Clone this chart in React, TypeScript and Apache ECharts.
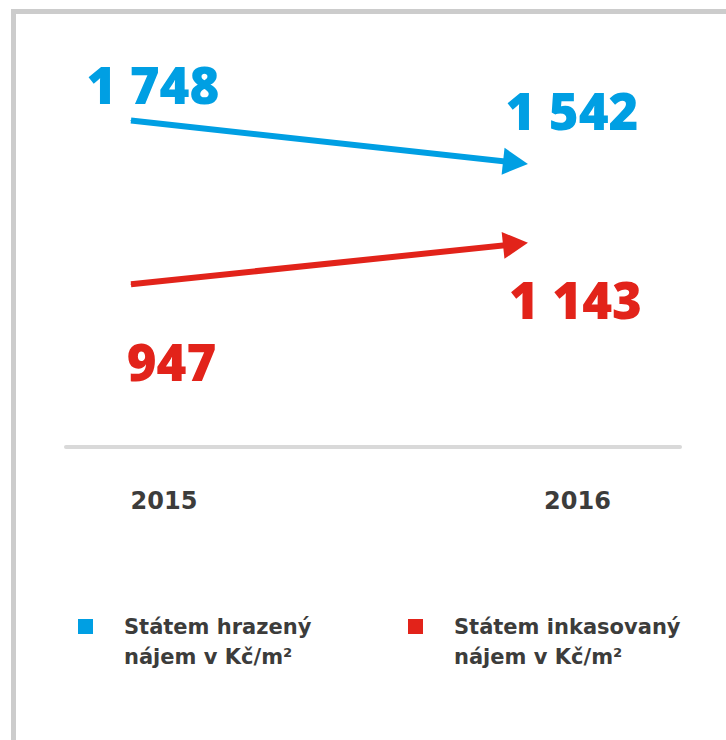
import React, { useEffect, useRef } from 'react';
import * as echarts from 'echarts';

const years = ['2015', '2016'];
const seriesNames = ['Státem hrazený\nnájem v Kč/m²', 'Státem inkasovaný\nnájem v Kč/m²'];
const paidRent = [1748, 1542];
const collectedRent = [947, 1143];
const colors = ['#009FE3', '#E2231A'];

const fmt = (v: number) => String(v).replace(/\B(?=(\d{3})+(?!\d))/g, ' ');

export default function App() {
  const ref = useRef<HTMLDivElement>(null);
  useEffect(() => {
    if (!ref.current) return;
    const chart = echarts.init(ref.current, null, { renderer: 'svg' });
    const xs = [0, 1];
    const valueSets = [paidRent, collectedRent];
    const labelOffsets = [
      [[22, -36.5], [56.5, -53]],
      [[40.5, 76.5], [60, 54.5]],
    ];
    const makeSeries = (rots: number[]) =>
      valueSets.map((vals, si) => ({
        type: 'line',
        name: seriesNames[si],
        color: colors[si],
        lineStyle: { width: 6, color: colors[si] },
        itemStyle: { color: colors[si] },
        emphasis: { disabled: true },
        z: 3,
        data: vals.map((v, i) => {
          const last = i === vals.length - 1;
          return {
            value: [xs[i], v],
            symbol: last ? 'triangle' : 'circle',
            symbolSize: last ? [27, 25] : 1,
            symbolRotate: last ? rots[si] : 0,
            label: {
              show: true,
              position: 'inside',
              offset: labelOffsets[si][i],
              formatter: (p: any) => fmt(p.value[1]),
              fontSize: 51,
              fontWeight: 800,
              fontFamily: '"Open Sans"',
              color: colors[si],
              align: 'center',
              verticalAlign: 'middle',
              textBorderWidth: 0,
            },
          };
        }),
      }));

    const option: any = {
      animation: false,
      grid: { left: 66, right: 46, top: 18, bottom: 293, containLabel: false },
      xAxis: {
        type: 'value',
        min: -0.169,
        max: 1.4278,
        axisLine: { show: true, onZero: false, lineStyle: { color: '#d9d9d9', width: 4 } },
        axisTick: { show: false },
        axisLabel: { show: false },
        splitLine: { show: false },
      },
      yAxis: { type: 'value', min: 150, max: 2250, show: false },
      legend: seriesNames.map((n, i) => ({
        data: [n],
        left: [78, 408][i],
        top: 581.5,
        padding: 0,
        icon: 'rect',
        itemWidth: 15,
        itemHeight: 15,
        itemStyle: { borderWidth: 0 },
        selectedMode: false,
        formatter: (name: string) => ' \n' + name,
        textStyle: {
          fontFamily: '"DejaVu Sans"',
          fontWeight: 'bold',
          fontSize: 21,
          lineHeight: 30,
          color: '#3c3c3b',
          padding: [0, 0, 0, 26],
        },
      })),
      graphic: [
        { type: 'rect', shape: { x: 11, y: 9, width: 5, height: 731 }, style: { fill: '#cccccc' } },
        { type: 'rect', shape: { x: 11, y: 9, width: 715, height: 5 }, style: { fill: '#cccccc' } },
        ...years.map((y, i) => ({
          type: 'text',
          x: [164, 577.5][i],
          y: 501,
          style: {
            text: y,
            fontFamily: '"DejaVu Sans"',
            fontWeight: 'bold',
            fontSize: 24,
            fill: '#3c3c3b',
            align: 'center',
            verticalAlign: 'middle',
          },
        })),
      ],
      series: makeSeries([0, 0]),
    };
    chart.setOption(option);
    const rots = valueSets.map((vals) => {
      const p0 = chart.convertToPixel({ gridIndex: 0 }, [xs[0], vals[0]]) as number[];
      const p1 = chart.convertToPixel({ gridIndex: 0 }, [xs[1], vals[1]]) as number[];
      const theta = (Math.atan2(-(p1[1] - p0[1]), p1[0] - p0[0]) * 180) / Math.PI;
      return theta - 90;
    });
    chart.setOption({ series: makeSeries(rots) });
    return () => chart.dispose();
  }, []);
  return (
    <div
      ref={ref}
      style={{ position: 'absolute', left: 0, top: 0, width: 726, height: 740, background: '#ffffff' }}
    />
  );
}
